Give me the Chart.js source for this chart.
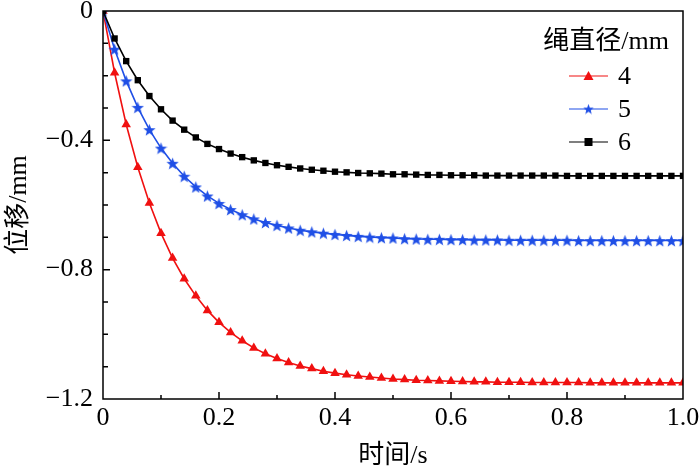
<!DOCTYPE html>
<html>
<head>
<meta charset="utf-8">
<script src="https://cdn.jsdelivr.net/npm/chart.js@4.4.1/dist/chart.umd.min.js"></script>
<style>
  html, body { margin: 0; padding: 0; background: #fff; }
  #wrap { width: 700px; height: 466px; }
</style>
</head>
<body>
<div id="wrap"><canvas id="chart"></canvas></div>
<script>
// time axis (s)
const times = [
  0, 0.02, 0.04, 0.06, 0.08, 0.10, 0.12, 0.14, 0.16, 0.18,
  0.20, 0.22, 0.24, 0.26, 0.28, 0.30, 0.32, 0.34, 0.36, 0.38,
  0.40, 0.42, 0.44, 0.46, 0.48, 0.50, 0.52, 0.54, 0.56, 0.58,
  0.60, 0.62, 0.64, 0.66, 0.68, 0.70, 0.72, 0.74, 0.76, 0.78,
  0.80, 0.82, 0.84, 0.86, 0.88, 0.90, 0.92, 0.94, 0.96, 0.98, 1.00
];

// displacement (mm) for rope diameter 4 / 5 / 6 mm
const disp4 = [
  0, -0.191, -0.351, -0.483, -0.594, -0.687, -0.764, -0.828, -0.881, -0.926,
  -0.963, -0.994, -1.020, -1.042, -1.060, -1.075, -1.087, -1.098, -1.106, -1.114,
  -1.120, -1.125, -1.129, -1.132, -1.135, -1.138, -1.140, -1.142, -1.143, -1.144,
  -1.145, -1.146, -1.147, -1.147, -1.148, -1.148, -1.148, -1.149, -1.149, -1.149,
  -1.149, -1.149, -1.150, -1.150, -1.150, -1.150, -1.150, -1.150, -1.150, -1.150, -1.150
];
const disp5 = [
  0, -0.118, -0.216, -0.298, -0.367, -0.424, -0.471, -0.511, -0.544, -0.572,
  -0.595, -0.614, -0.630, -0.643, -0.654, -0.663, -0.671, -0.678, -0.683, -0.687,
  -0.691, -0.694, -0.697, -0.699, -0.701, -0.702, -0.704, -0.705, -0.706, -0.706,
  -0.707, -0.707, -0.708, -0.708, -0.708, -0.709, -0.709, -0.709, -0.709, -0.709,
  -0.709, -0.710, -0.710, -0.710, -0.710, -0.710, -0.710, -0.710, -0.710, -0.710, -0.710
];
const disp6 = [
  0, -0.085, -0.155, -0.214, -0.263, -0.304, -0.339, -0.367, -0.391, -0.411,
  -0.427, -0.441, -0.452, -0.462, -0.470, -0.477, -0.482, -0.487, -0.491, -0.494,
  -0.497, -0.499, -0.501, -0.502, -0.503, -0.505, -0.505, -0.506, -0.507, -0.507,
  -0.508, -0.508, -0.508, -0.509, -0.509, -0.509, -0.509, -0.509, -0.509, -0.509,
  -0.510, -0.510, -0.510, -0.510, -0.510, -0.510, -0.510, -0.510, -0.510, -0.510, -0.510
];

const seriesNames = ['4', '5', '6'];
const legendTitle = '绳直径/mm';
const xTitle = '时间/s';
const yTitle = '位移/mm';

const RED = '#f01010';
const BLUE = '#1f4fe6';
const BLACK = '#000000';
const FONT = "'Liberation Serif', 'Noto Sans CJK SC', serif";
const FS = 26;

// filled five point star used as marker
function makeStar(size, color) {
  const c = document.createElement('canvas');
  c.width = size; c.height = size;
  const g = c.getContext('2d');
  const cx = size / 2, cy = size / 2 + size * 0.05;
  const ro = size / 2, ri = ro * 0.42;
  g.beginPath();
  for (let i = 0; i < 10; i++) {
    const r = i % 2 === 0 ? ro : ri;
    const a = -Math.PI / 2 + i * Math.PI / 5;
    const px = cx + r * Math.cos(a), py = cy + r * Math.sin(a);
    if (i === 0) g.moveTo(px, py); else g.lineTo(px, py);
  }
  g.closePath();
  g.fillStyle = color;
  g.fill();
  return c;
}
const starBig = makeStar(13, BLUE);
const starSmall = makeStar(11, BLUE);

function pts(ys) {
  return times.map((t, i) => ({ x: t, y: ys[i] }));
}

function fmt(v) {
  const r = Math.round(v * 10) / 10;
  if (r === 0) return '0';
  const s = Math.abs(r).toFixed(1);
  return (r < 0 ? '\u2212' : '') + s;
}

// frame and inward ticks
const framePlugin = {
  id: 'frame',
  afterDatasetsDraw(chart) {
    const { ctx, chartArea: a, scales } = chart;
    ctx.save();
    ctx.strokeStyle = '#000';
    ctx.lineWidth = 1.5;
    ctx.strokeRect(a.left, a.top, a.right - a.left, a.bottom - a.top);
    ctx.beginPath();
    for (let k = 1; k < 10; k++) {
      const px = scales.x.getPixelForValue(k / 10);
      const len = k % 2 === 0 ? 7 : 4;
      ctx.moveTo(px, a.bottom);
      ctx.lineTo(px, a.bottom - len);
    }
    for (let k = 1; k < 12; k++) {
      const py = scales.y.getPixelForValue(-k / 10);
      const len = k % 4 === 0 ? 7 : 5;
      ctx.moveTo(a.left, py);
      ctx.lineTo(a.left + len, py);
    }
    ctx.stroke();
    ctx.restore();
  }
};

// legend drawn inside the plot area
const insideLegend = {
  id: 'insideLegend',
  afterDraw(chart) {
    const { ctx, chartArea: a } = chart;
    ctx.save();
    ctx.fillStyle = '#000';
    ctx.font = FS + 'px ' + FONT;
    ctx.textBaseline = 'middle';
    ctx.textAlign = 'right';
    ctx.fillText(legendTitle, a.right - 14, a.top + 31);
    ctx.textAlign = 'left';
    const order = [2, 1, 0];
    const ys = [a.top + 65, a.top + 98, a.top + 131];
    order.forEach((di, i) => {
      const ds = chart.data.datasets[di];
      const y = ys[i];
      const x0 = a.right - 114, x1 = a.right - 75, xm = (x0 + x1) / 2;
      ctx.strokeStyle = ds.borderColor;
      ctx.lineWidth = 1.2;
      ctx.beginPath();
      ctx.moveTo(x0, y); ctx.lineTo(x1, y);
      ctx.stroke();
      ctx.fillStyle = ds.borderColor;
      if (ds.label === '4') {
        ctx.beginPath();
        ctx.moveTo(xm, y - 5); ctx.lineTo(xm + 5, y + 4); ctx.lineTo(xm - 5, y + 4);
        ctx.closePath(); ctx.fill();
      } else if (ds.label === '5') {
        ctx.drawImage(starSmall, xm - 5.5, y - 5.5);
      } else {
        ctx.fillRect(xm - 4, y - 4, 8, 8);
      }
      ctx.fillStyle = '#000';
      ctx.fillText(ds.label, a.right - 65, y + 1);
    });
    ctx.restore();
  }
};

new Chart(document.getElementById('chart'), {
  type: 'line',
  data: {
    datasets: [
      { label: seriesNames[2], data: pts(disp6), borderColor: BLACK, backgroundColor: BLACK,
        borderWidth: 1.6, pointStyle: 'rect', pointRadius: 4.5, pointBorderWidth: 0, tension: 0 },
      { label: seriesNames[1], data: pts(disp5), borderColor: BLUE, backgroundColor: BLUE,
        borderWidth: 1.6, pointStyle: starBig, pointRadius: 6, tension: 0 },
      { label: seriesNames[0], data: pts(disp4), borderColor: RED, backgroundColor: RED,
        borderWidth: 1.6, pointStyle: 'triangle', pointRadius: 5.5, pointBorderWidth: 0, tension: 0 }
    ]
  },
  options: {
    responsive: true,
    maintainAspectRatio: false,
    animation: false,
    layout: { padding: { top: 11, right: 17, left: 0, bottom: 0 } },
    plugins: { legend: { display: false }, tooltip: { enabled: false } },
    scales: {
      x: {
        type: 'linear', min: 0, max: 1,
        grid: { display: false, drawTicks: false }, border: { display: false },
        ticks: {
          stepSize: 0.1, autoSkip: false, maxRotation: 0, padding: 4, color: '#000',
          font: { family: FONT, size: FS },
          callback: v => (Math.round(v * 10) % 2 === 0 ? fmt(v) : '')
        },
        title: { display: true, text: xTitle, color: '#000', font: { family: FONT, size: FS }, padding: { top: 0, bottom: -6 } },
        afterFit: s => { s.height = 67; s.paddingLeft = 0; s.paddingRight = 0; }
      },
      y: {
        min: -1.2, max: 0,
        grid: { display: false, drawTicks: false }, border: { display: false },
        ticks: {
          stepSize: 0.1, autoSkip: false, padding: 10, color: '#000',
          font: { family: FONT, size: FS },
          callback: v => (Math.round(v * 10) % 4 === 0 ? fmt(v) : '')
        },
        title: { display: true, text: yTitle, color: '#000', font: { family: FONT, size: FS }, padding: { top: 4, bottom: 0 } },
        afterFit: s => { s.width = 103; s.paddingTop = 0; s.paddingBottom = 0; }
      }
    }
  },
  plugins: [framePlugin, insideLegend]
});
</script>
</body>
</html>
